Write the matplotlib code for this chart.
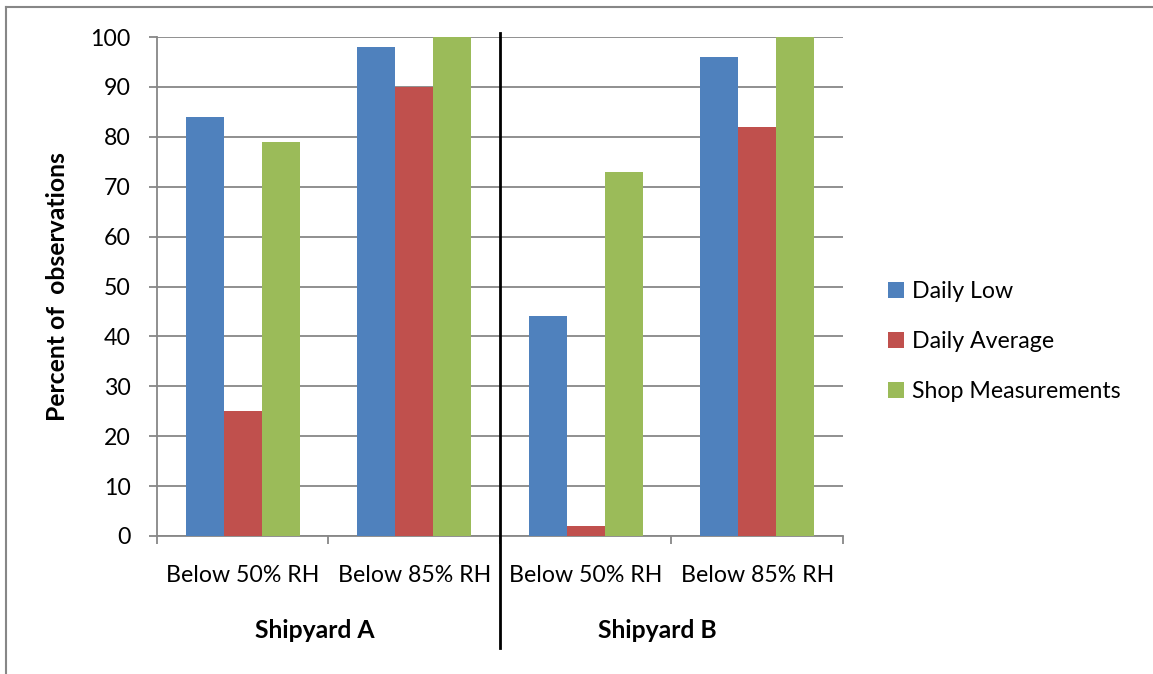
import numpy as np
import matplotlib.pyplot as plt
import matplotlib.transforms as mtransforms

plt.rcParams['font.family'] = ['Lato', 'DejaVu Sans']

# ---- data ----
categories = ["Below 50% RH", "Below 85% RH", "Below 50% RH", "Below 85% RH"]
groups = ["Shipyard A", "Shipyard B"]
series = ["Daily Low", "Daily Average", "Shop Measurements"]
daily_low = [84, 98, 44, 96]
daily_avg = [25, 90, 2, 82]
shop_meas = [79, 100, 73, 100]
colors = ["#4F81BD", "#C0504D", "#9BBB59"]

W, H = 1153, 674
fs = 16.7
fsb = 17.8
fig = plt.figure(figsize=(W / 100, H / 100), dpi=100)
ax = fig.add_axes([157 / W, (H - 536) / H, (843 - 157) / W, (536 - 37) / H])

x = np.arange(len(categories))
bw = 0.222
for i, (vals, c, name) in enumerate(zip([daily_low, daily_avg, shop_meas], colors, series)):
    ax.bar(x + (i - 1) * bw, vals, bw, color=c, label=name, zorder=3)

ax.set_xlim(-0.5, len(categories) - 0.5)
ax.set_ylim(0, 100)
ax.set_yticks(range(0, 101, 10))
ax.yaxis.grid(True, color="#878787", linewidth=1.3, zorder=0)
ax.set_axisbelow(True)

for s in ["top", "right"]:
    ax.spines[s].set_visible(False)
for s in ["left", "bottom"]:
    ax.spines[s].set_color("#878787")
    ax.spines[s].set_linewidth(1.3)

ax.tick_params(axis="y", length=6, width=1.3, color="#878787", pad=13, labelsize=fs)
ax.set_xticks(x)
ax.set_xticklabels(categories, fontsize=fs)
ax.tick_params(axis="x", which="major", length=0, pad=21)
ax.set_xticks(np.arange(-0.5, len(categories), 1), minor=True)
ax.tick_params(axis="x", which="minor", length=6, width=1.3, color="#878787")

ax.set_ylabel("Percent of  observations", fontsize=fsb, fontweight="bold")
ax.yaxis.set_label_coords(-0.128, 0.5)

trans = mtransforms.blended_transform_factory(ax.transData, ax.transAxes)
# separator between shipyards
ax.plot([1.5, 1.5], [1.008, -0.224], color="black", linewidth=2, transform=trans, clip_on=False, zorder=5)
# group labels
ax.text(0.42, -0.19, groups[0], transform=trans, ha="center", va="center",
        fontsize=fsb, fontweight="bold")
ax.text(2.42, -0.19, groups[1], transform=trans, ha="center", va="center",
        fontsize=fsb, fontweight="bold")

ax.legend(loc="center left", bbox_to_anchor=(1.035, 0.39), frameon=False, fontsize=fs,
          handlelength=0.7, handleheight=0.7, handletextpad=0.35, labelspacing=1.25)

# outer chart border (top and left visible)
fig.add_artist(plt.Line2D([6 / W, 6 / W], [0, 1 - 7 / H], color="#878787", linewidth=1.5))
fig.add_artist(plt.Line2D([6 / W, 1], [1 - 7 / H, 1 - 7 / H], color="#878787", linewidth=1.5))

fig.savefig("out.png", dpi=100)
